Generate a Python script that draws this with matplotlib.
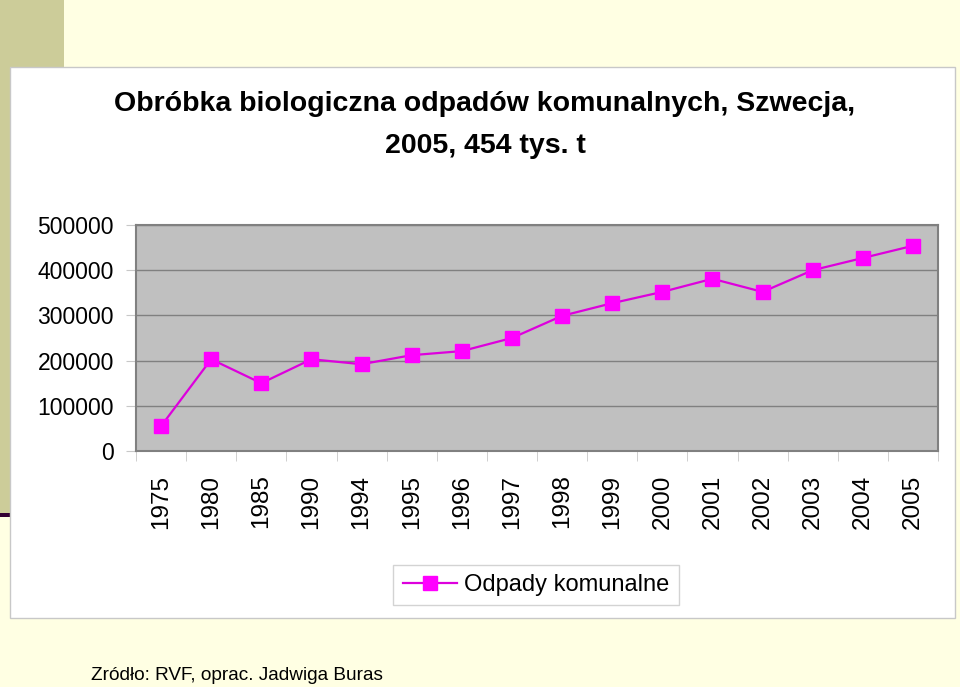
import matplotlib.pyplot as plt
from matplotlib.patches import Rectangle
from matplotlib.lines import Line2D
import numpy as np

plt.rcParams['font.family'] = ['Liberation Sans', 'DejaVu Sans']

# data
years = ['1975', '1980', '1985', '1990', '1994', '1995', '1996', '1997',
         '1998', '1999', '2000', '2001', '2002', '2003', '2004', '2005']
waste = [55000, 203000, 150000, 203000, 192000, 212000, 221000, 250000,
         299000, 327000, 352000, 381000, 352000, 400000, 427000, 454000]
yticks = [0, 100000, 200000, 300000, 400000, 500000]

W, H = 960, 687
fig = plt.figure(figsize=(W / 100, H / 100), dpi=100)
fig.patch.set_facecolor('#FFFFE3')

def box(x0, y0, x1, y1, **kw):
    # pixel box, origin at top left
    r = Rectangle((x0 / W, 1 - y1 / H), (x1 - x0) / W, (y1 - y0) / H,
                  transform=fig.transFigure, zorder=-10, **kw)
    fig.patches.append(r)

# slide decoration
box(0, 0, 64, 67, facecolor='#CCCC99', edgecolor='none')
box(0, 67, 10, 513, facecolor='#CCCC99', edgecolor='none')
box(0, 513, 10, 517, facecolor='#330033', edgecolor='none')
# chart area
box(10, 67, 955, 618, facecolor='white', edgecolor='#C8C8C8', linewidth=1)

ax = fig.add_axes([136 / W, 1 - 451 / H, 802 / W, 226 / H])
ax.set_facecolor('#C0C0C0')
x = np.arange(len(years))
ax.plot(x, waste, color='#DD00DD', linewidth=1.6, marker='s',
        markersize=9.5, markerfacecolor='#FF00FF', markeredgecolor='#FF00FF',
        zorder=3)
ax.set_xlim(-0.5, len(years) - 0.5)
ax.set_ylim(0, 500000)
ax.set_yticks(yticks)
ax.set_yticklabels([str(v) for v in yticks], fontsize=16.5)
ax.grid(axis='y', color='#808080', linewidth=1)
ax.set_axisbelow(True)
ax.tick_params(axis='y', length=7, color='#C8C8C8', pad=9)

ax.set_xticks(x)
ax.set_xticklabels(years, rotation=90, fontsize=17.5, va='top')
ax.tick_params(axis='x', which='major', length=0, pad=17)
ax.set_xticks(np.arange(len(years) + 1) - 0.5, minor=True)
ax.tick_params(axis='x', which='minor', length=7, color='#C8C8C8')
for s in ax.spines.values():
    s.set_color('#808080')
    s.set_linewidth(1.5)

fig.text(485 / W, 1 - 104 / H, 'Obróbka biologiczna odpadów komunalnych, Szwecja,',
         ha='center', va='center', fontsize=20.5, fontweight='bold')
fig.text(485 / W, 1 - 146 / H, '2005, 454 tys. t',
         ha='center', va='center', fontsize=20.5, fontweight='bold')

handle = Line2D([], [], color='#DD00DD', linewidth=1.6, marker='s',
                markersize=9.5, markerfacecolor='#FF00FF',
                markeredgecolor='#FF00FF')
leg = fig.legend([handle], ['Odpady komunalne'], loc='center',
                 bbox_to_anchor=(536 / W, 1 - 585 / H), fontsize=17,
                 frameon=True, fancybox=False, edgecolor='#C8C8C8',
                 handlelength=2.3, handletextpad=0.3, borderpad=0.4)
leg.get_frame().set_linewidth(1)

fig.text(91 / W, 1 - 676 / H, 'Zródło: RVF, oprac. Jadwiga Buras',
         ha='left', va='center', fontsize=13.7)

fig.savefig('out.png', dpi=100, facecolor=fig.get_facecolor())
